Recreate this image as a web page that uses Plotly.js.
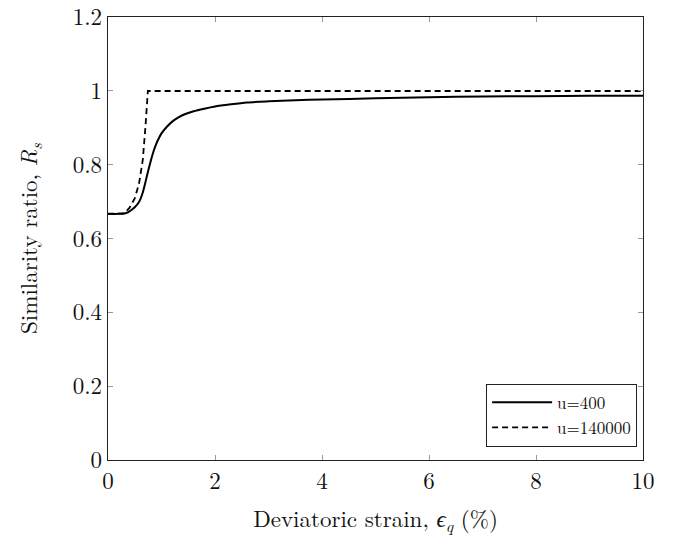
<!DOCTYPE html>
<html>
<head>
<meta charset="utf-8">
<script src="https://cdn.plot.ly/plotly-3.0.1.min.js"></script>
<style>html,body{margin:0;padding:0;background:#fff;}#chart{width:676px;height:544px;}</style>
</head>
<body>
<div id="chart"></div>
<script>
// Series u=400 (solid)
const strainU400 = [0, 0.2, 0.3, 0.35, 0.4, 0.45, 0.5, 0.55, 0.6, 0.65, 0.7, 0.75, 0.8, 0.85, 0.9, 0.95, 1.0, 1.1, 1.2, 1.3, 1.4, 1.6, 1.8, 2.0, 2.3, 2.6, 3.0, 3.5, 4.0, 5.0, 6.0, 7.0, 8.0, 9.0, 10.0];
const ratioU400  = [0.667, 0.667, 0.668, 0.670, 0.674, 0.679, 0.685, 0.693, 0.705, 0.725, 0.753, 0.783, 0.811, 0.836, 0.856, 0.872, 0.885, 0.903, 0.917, 0.927, 0.935, 0.945, 0.952, 0.958, 0.964, 0.969, 0.972, 0.975, 0.977, 0.980, 0.983, 0.985, 0.986, 0.987, 0.987];
// Series u=140000 (dashed)
const strainU140000 = [0, 0.3, 0.4, 0.5, 0.58, 0.65, 0.70, 0.745, 10.0];
const ratioU140000  = [0.667, 0.668, 0.683, 0.709, 0.749, 0.813, 0.903, 1.0, 1.0];
const seriesNames = ["u=400", "u=140000"];
const xTicks = [0, 2, 4, 6, 8, 10];
const yTicks = [0, 0.2, 0.4, 0.6, 0.8, 1, 1.2];

const serif = "Latin Modern Roman, CMU Serif, DejaVu Serif, serif";

const traces = [
  {x: strainU400, y: ratioU400, name: seriesNames[0], mode: "lines",
   line: {color: "#000", width: 2, shape: "spline", smoothing: 0.6}},
  {x: strainU140000, y: ratioU140000, name: seriesNames[1], mode: "lines",
   line: {color: "#000", width: 1.8, dash: "6px,4px"}}
];

const axisCommon = {
  showline: true, linecolor: "#222", linewidth: 1.3, mirror: "allticks",
  ticks: "inside", ticklen: 5, tickcolor: "#999", tickwidth: 1,
  showgrid: false, zeroline: false, ticklabeloverflow: "allow",
  tickfont: {family: serif, size: 23, color: "#111"}
};

const layout = {
  width: 676, height: 544,
  margin: {l: 108, r: 33, t: 17, b: 84},
  paper_bgcolor: "#fff", plot_bgcolor: "#fff",
  showlegend: true,
  legend: {x: 0.989, y: 0.03, xanchor: "right", yanchor: "bottom",
           bordercolor: "#222", borderwidth: 1, bgcolor: "#fff", itemwidth: 60,
           font: {family: serif, size: 17, color: "#111"}, tracegroupgap: 0},
  xaxis: Object.assign({}, axisCommon, {
    range: [0, 10], tickvals: xTicks, ticktext: xTicks.map(String),
    title: {text: "Deviatoric strain, <span style=\"font-family:Liberation Serif;font-style:italic\">ϵ</span><sub><i>q</i></sub> (%)", font: {family: serif, size: 23, color: "#111"}, standoff: 16}
  }),
  yaxis: Object.assign({}, axisCommon, {
    range: [0, 1.2005], tickvals: yTicks, ticktext: yTicks.map(String),
    title: {text: "Similarity ratio, <i>R</i><sub><i>s</i></sub>", font: {family: serif, size: 23, color: "#111"}, standoff: 28}
  })
};

Plotly.newPlot("chart", traces, layout, {displayModeBar: false, staticPlot: true});
</script>
</body>
</html>
